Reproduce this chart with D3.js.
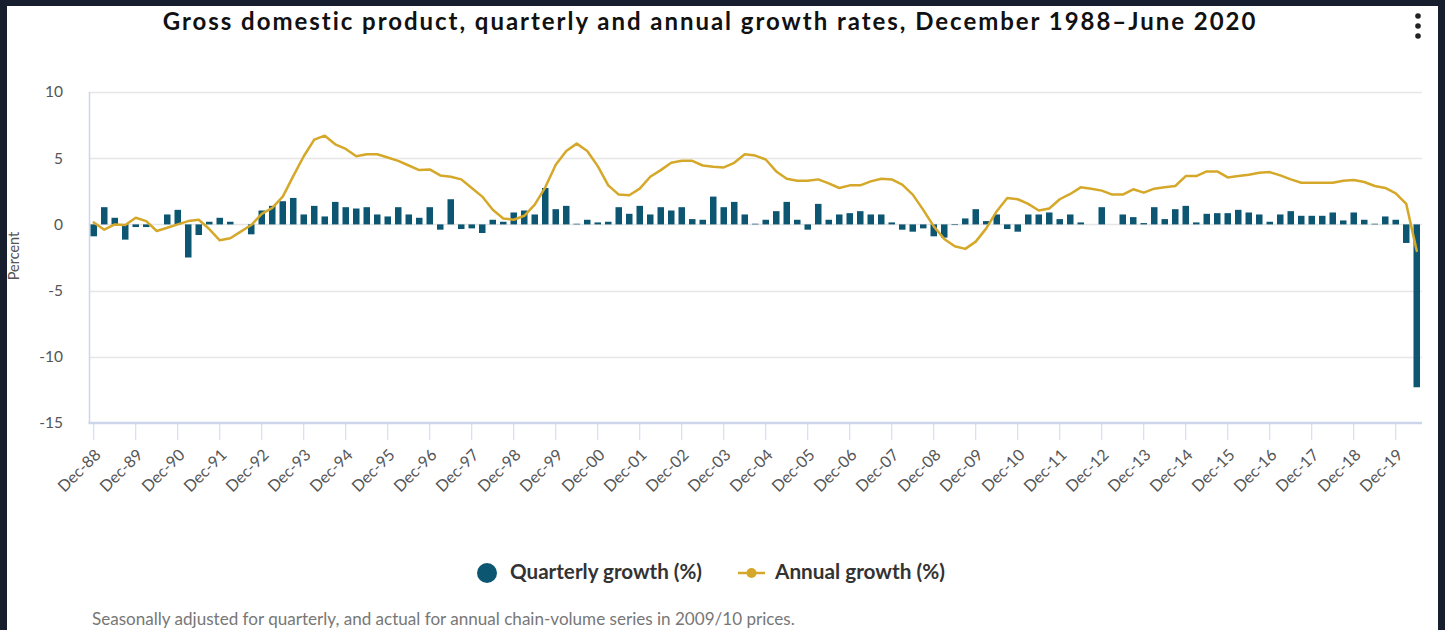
<!DOCTYPE html>
<html>
<head>
<meta charset="utf-8">
<script src="https://cdn.jsdelivr.net/npm/d3@7"></script>
<style>
  html, body { margin: 0; padding: 0; background: #171e2e; }
  svg { display: block; }
  text { font-family: "Lato", "Open Sans", sans-serif; }
</style>
</head>
<body>
<svg id="chart" width="1445" height="630"></svg>
<script>
// ---------------- DATA ----------------
const categories = [
  "Dec-88",
  "Mar-89","Jun-89","Sep-89","Dec-89",
  "Mar-90","Jun-90","Sep-90","Dec-90",
  "Mar-91","Jun-91","Sep-91","Dec-91",
  "Mar-92","Jun-92","Sep-92","Dec-92",
  "Mar-93","Jun-93","Sep-93","Dec-93",
  "Mar-94","Jun-94","Sep-94","Dec-94",
  "Mar-95","Jun-95","Sep-95","Dec-95",
  "Mar-96","Jun-96","Sep-96","Dec-96",
  "Mar-97","Jun-97","Sep-97","Dec-97",
  "Mar-98","Jun-98","Sep-98","Dec-98",
  "Mar-99","Jun-99","Sep-99","Dec-99",
  "Mar-00","Jun-00","Sep-00","Dec-00",
  "Mar-01","Jun-01","Sep-01","Dec-01",
  "Mar-02","Jun-02","Sep-02","Dec-02",
  "Mar-03","Jun-03","Sep-03","Dec-03",
  "Mar-04","Jun-04","Sep-04","Dec-04",
  "Mar-05","Jun-05","Sep-05","Dec-05",
  "Mar-06","Jun-06","Sep-06","Dec-06",
  "Mar-07","Jun-07","Sep-07","Dec-07",
  "Mar-08","Jun-08","Sep-08","Dec-08",
  "Mar-09","Jun-09","Sep-09","Dec-09",
  "Mar-10","Jun-10","Sep-10","Dec-10",
  "Mar-11","Jun-11","Sep-11","Dec-11",
  "Mar-12","Jun-12","Sep-12","Dec-12",
  "Mar-13","Jun-13","Sep-13","Dec-13",
  "Mar-14","Jun-14","Sep-14","Dec-14",
  "Mar-15","Jun-15","Sep-15","Dec-15",
  "Mar-16","Jun-16","Sep-16","Dec-16",
  "Mar-17","Jun-17","Sep-17","Dec-17",
  "Mar-18","Jun-18","Sep-18","Dec-18",
  "Mar-19","Jun-19","Sep-19","Dec-19",
  "Mar-20","Jun-20"
];

const quarterlyGrowth = [
  -0.9,
  1.3, 0.5, -1.15, -0.2,
  -0.2, 0.0, 0.75, 1.1,
  -2.5, -0.8, 0.2, 0.5,
  0.2, 0.0, -0.75, 1.05,
  1.4, 1.75, 2.0, 0.75,
  1.4, 0.6, 1.7, 1.3,
  1.2, 1.3, 0.75, 0.6,
  1.3, 0.75, 0.5, 1.3,
  -0.4, 1.9, -0.35, -0.3,
  -0.65, 0.35, 0.2, 0.9,
  1.05, 0.75, 2.75, 1.15,
  1.4, 0.05, 0.35, 0.15,
  0.2, 1.3, 0.8, 1.4,
  0.75, 1.3, 1.05, 1.3,
  0.4, 0.35, 2.1, 1.3,
  1.7, 0.75, 0.05, 0.35,
  1.0, 1.7, 0.35, -0.4,
  1.55, 0.35, 0.75, 0.85,
  1.0, 0.75, 0.75, 0.15,
  -0.4, -0.55, -0.3, -0.9,
  -1.0, -0.05, 0.45, 1.15,
  0.25, 0.75, -0.35, -0.55,
  0.75, 0.75, 0.9, 0.4,
  0.75, 0.15, 0.0, 1.3,
  0.0, 0.75, 0.55, 0.1,
  1.3, 0.4, 1.15, 1.4,
  0.15, 0.8, 0.85, 0.85,
  1.1, 0.9, 0.75, 0.2,
  0.75, 1.0, 0.65, 0.65,
  0.65, 0.9, 0.3, 0.9,
  0.35, 0.05, 0.6, 0.35,
  -1.4, -12.3
];

const annualGrowth = [
  0.15,
  -0.4, 0.0, -0.05, 0.5,
  0.25, -0.5, -0.25, 0.0,
  0.25, 0.35, -0.35, -1.2,
  -1.05, -0.55, -0.05, 0.8,
  1.25, 2.1, 3.65, 5.15,
  6.4, 6.7, 6.05, 5.7,
  5.15, 5.3, 5.3, 5.05,
  4.8, 4.45, 4.1, 4.15,
  3.7, 3.6, 3.4, 2.75,
  2.1, 1.1, 0.45, 0.35,
  0.65, 1.5, 2.8, 4.5,
  5.55, 6.1, 5.55, 4.4,
  2.95, 2.25, 2.2, 2.7,
  3.6, 4.1, 4.65, 4.8,
  4.8, 4.45, 4.35, 4.3,
  4.65, 5.3, 5.2, 4.9,
  4.0, 3.45, 3.3, 3.3,
  3.4, 3.1, 2.75, 2.95,
  2.95, 3.25, 3.45, 3.4,
  3.0, 2.25, 1.1, -0.15,
  -1.1, -1.65, -1.85, -1.3,
  -0.3, 1.0, 2.0, 1.9,
  1.55, 1.05, 1.2, 1.9,
  2.3, 2.8, 2.7, 2.55,
  2.25, 2.25, 2.65, 2.4,
  2.7, 2.8, 2.9, 3.65,
  3.65, 4.0, 4.0, 3.55,
  3.65, 3.75, 3.9, 3.95,
  3.7, 3.4, 3.15, 3.15,
  3.15, 3.15, 3.3, 3.35,
  3.2, 2.9, 2.75, 2.35,
  1.55, -2.0
];

const xTickLabels = [
  "Dec-88","Dec-89","Dec-90","Dec-91","Dec-92","Dec-93","Dec-94","Dec-95",
  "Dec-96","Dec-97","Dec-98","Dec-99","Dec-00","Dec-01","Dec-02","Dec-03",
  "Dec-04","Dec-05","Dec-06","Dec-07","Dec-08","Dec-09","Dec-10","Dec-11",
  "Dec-12","Dec-13","Dec-14","Dec-15","Dec-16","Dec-17","Dec-18","Dec-19"
];
const yTickValues = [10, 5, 0, -5, -10, -15];

const titleText = "Gross domestic product, quarterly and annual growth rates, December 1988\u2013June 2020";
const seriesNames = ["Quarterly growth (%)", "Annual growth (%)"];
const yAxisTitle = "Percent";
const footnote = "Seasonally adjusted for quarterly, and actual for annual chain-volume series in 2009/10 prices.";

// ---------------- STYLE ----------------
const barColor = "#0c5672";
const lineColor = "#d5a82a";

const svg = d3.select("#chart");

function fitWidth(el, target) {
  const w = el.node().getComputedTextLength();
  const fs = parseFloat(el.style("font-size"));
  el.style("font-size", (fs * target / w).toFixed(2) + "px");
}
function fitSpacing(el, target) {
  const w = el.node().getComputedTextLength();
  const n = el.text().length;
  el.style("letter-spacing", ((target - w) / n).toFixed(3) + "px");
}

// white panel
svg.append("rect").attr("x", 7).attr("y", 6).attr("width", 1431).attr("height", 630)
  .attr("fill", "#ffffff");

// Scales
const x = d3.scaleBand().domain(categories).range([88.5, 1422])
  .paddingInner(0.38).paddingOuter(0.19);
const y = d3.scaleLinear().domain([-15, 10]).range([423, 92]);

// Gridlines
svg.append("g").selectAll("line").data(yTickValues.filter(v => v !== -15)).join("line")
  .attr("x1", 89).attr("x2", 1422)
  .attr("y1", d => Math.round(y(d)) + 0.5).attr("y2", d => Math.round(y(d)) + 0.5)
  .attr("stroke", "#e6e6e6").attr("stroke-width", 1.5);

// Y axis labels
const yAxis = d3.axisLeft(y).tickValues(yTickValues).tickSize(0).tickPadding(0)
  .tickFormat(d => String(d));
const gy = svg.append("g").attr("transform", "translate(63,0)").call(yAxis);
gy.select(".domain").remove();
gy.selectAll("text").attr("fill", "#555").style("font-size", "15.5px")
  .style("font-family", "Lato, 'Open Sans', sans-serif");

// left axis line
svg.append("line").attr("x1", 89.5).attr("x2", 89.5).attr("y1", 92).attr("y2", 423)
  .attr("stroke", "#ccd6eb").attr("stroke-width", 1.5);

// Y axis title
svg.append("text").attr("transform", "translate(19,256) rotate(-90)")
  .attr("text-anchor", "middle").attr("fill", "#555").style("font-size", "14.5px")
  .text(yAxisTitle);

// Bars
svg.append("g").selectAll("rect").data(quarterlyGrowth).join("rect")
  .attr("x", (d, i) => x(categories[i]))
  .attr("width", x.bandwidth())
  .attr("y", d => y(Math.max(0, d)))
  .attr("height", d => Math.abs(y(d) - y(0)))
  .attr("fill", barColor);

// Line
const line = d3.line()
  .x((d, i) => x(categories[i]) + x.bandwidth() / 2)
  .y(d => y(d));
svg.append("path").datum(annualGrowth)
  .attr("d", line).attr("fill", "none")
  .attr("stroke", lineColor).attr("stroke-width", 2.5)
  .attr("stroke-linejoin", "round").attr("stroke-linecap", "round");

// X axis
const xAxis = d3.axisBottom(x).tickValues(xTickLabels).tickSize(17).tickSizeOuter(0);
const gx = svg.append("g").attr("transform", "translate(0,423)").call(xAxis);
gx.select(".domain").attr("stroke", "#ccd6eb").attr("stroke-width", 2.5)
  .attr("d", "M88.5,0H1422");
gx.selectAll(".tick line").attr("stroke", "#ccd6eb").attr("stroke-width", 1);
gx.selectAll(".tick text")
  .attr("fill", "#555").style("font-size", "16px")
  .style("font-family", "Lato, 'Open Sans', sans-serif")
  .attr("text-anchor", "end")
  .attr("y", 0).attr("dy", "0.35em")
  .attr("transform", "translate(4,29) rotate(-45)");

// Title
const title = svg.append("text").attr("x", 710).attr("y", 30)
  .attr("text-anchor", "middle").attr("fill", "#111")
  .style("font-weight", "700").style("font-size", "24px").text(titleText);
fitSpacing(title, 1095);

// Kebab menu
svg.append("g").selectAll("circle").data([16, 26, 36]).join("circle")
  .attr("cx", 1418).attr("cy", d => d).attr("r", 2.8).attr("fill", "#222");

// Legend
const lg = svg.append("g");
lg.append("circle").attr("cx", 487).attr("cy", 573).attr("r", 10).attr("fill", barColor);
const t1 = lg.append("text").attr("x", 510).attr("y", 579).attr("fill", "#333")
  .style("font-weight", "700").style("font-size", "17px").text(seriesNames[0]);
fitWidth(t1, 192);
lg.append("line").attr("x1", 738).attr("x2", 765).attr("y1", 573).attr("y2", 573)
  .attr("stroke", lineColor).attr("stroke-width", 2.5);
lg.append("circle").attr("cx", 751.5).attr("cy", 573).attr("r", 5).attr("fill", lineColor);
const t2 = lg.append("text").attr("x", 775).attr("y", 579).attr("fill", "#333")
  .style("font-weight", "700").style("font-size", "17px").text(seriesNames[1]);
fitWidth(t2, 170);

// Footnote
const fn = svg.append("text").attr("x", 92).attr("y", 625).attr("fill", "#777")
  .style("font-size", "14px").text(footnote);
fitWidth(fn, 703);
</script>
</body>
</html>
